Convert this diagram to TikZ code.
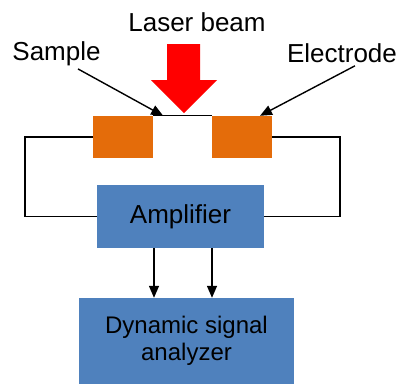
\documentclass[tikz,border=0pt]{standalone}
\usepackage{fontspec}
\setmainfont{Liberation Sans}
\usetikzlibrary{arrows.meta}
\definecolor{padorange}{HTML}{E46C0A}
\definecolor{boxblue}{HTML}{4F81BD}
\tikzset{
  electrode/.style={fill=padorange, minimum width=60pt, minimum height=42pt, inner sep=0pt},
  block/.style={fill=boxblue, inner sep=0pt, align=center},
  wire/.style={line width=1.3pt},
  pointer/.style={-{Triangle[length=12pt, width=10pt]}, line width=1.4pt},
  lbl/.style={font=\fontsize{26}{30}\selectfont, anchor=base},
}
\begin{document}
\begin{tikzpicture}[x=1pt, y=-1pt]
    \useasboundingbox (0,0) rectangle (399,383);
    % electrodes and the sample film between them
    \node[electrode] (padL) at (123,137) {};
    \node[electrode] (padR) at (242,137) {};
    \draw[wire] (padL.north east) -- (padR.north west);
    % laser beam
    \fill[red] (167,44) -- (200,44) -- (200,80) -- (217,80) -- (184,113)
      -- (151,80) -- (167,80) -- cycle;
    \node[lbl] (laser) at (197,31.5) {Laser beam};
    \node[lbl] (sample) at (56.5,60) {Sample};
    \node[lbl] (electrode) at (342,62) {Electrode};
    \draw[pointer] ([xshift=21.5pt]sample.south) -- ([xshift=10pt]padL.north east);
    \draw[pointer] ([xshift=13pt]electrode.south) -- ([xshift=18pt]padR.north);
    % amplifier and analyzer
    \node[block, minimum width=167pt, minimum height=63pt,
      font=\fontsize{26}{30}\selectfont] (amp) at (180.5,216.5) {Amplifier};
    \node[block, minimum width=215pt, minimum height=86pt,
      font=\fontsize{24}{27}\selectfont] (dsa) at (186.5,341) {Dynamic signal\\analyzer};
    \coordinate (cornerL) at (25,137);
    \coordinate (cornerR) at (340,137);
    \draw[wire] (padL.west) -- (cornerL) |- (amp.west);
    \draw[wire] (padR.east) -- (cornerR) |- (amp.east);
    \draw[pointer] ([xshift=-26.5pt]amp.south) -- ([xshift=-26.5pt]amp.south |- dsa.north);
    \draw[pointer] ([xshift=31.5pt]amp.south) -- ([xshift=31.5pt]amp.south |- dsa.north);
\end{tikzpicture}
\end{document}
